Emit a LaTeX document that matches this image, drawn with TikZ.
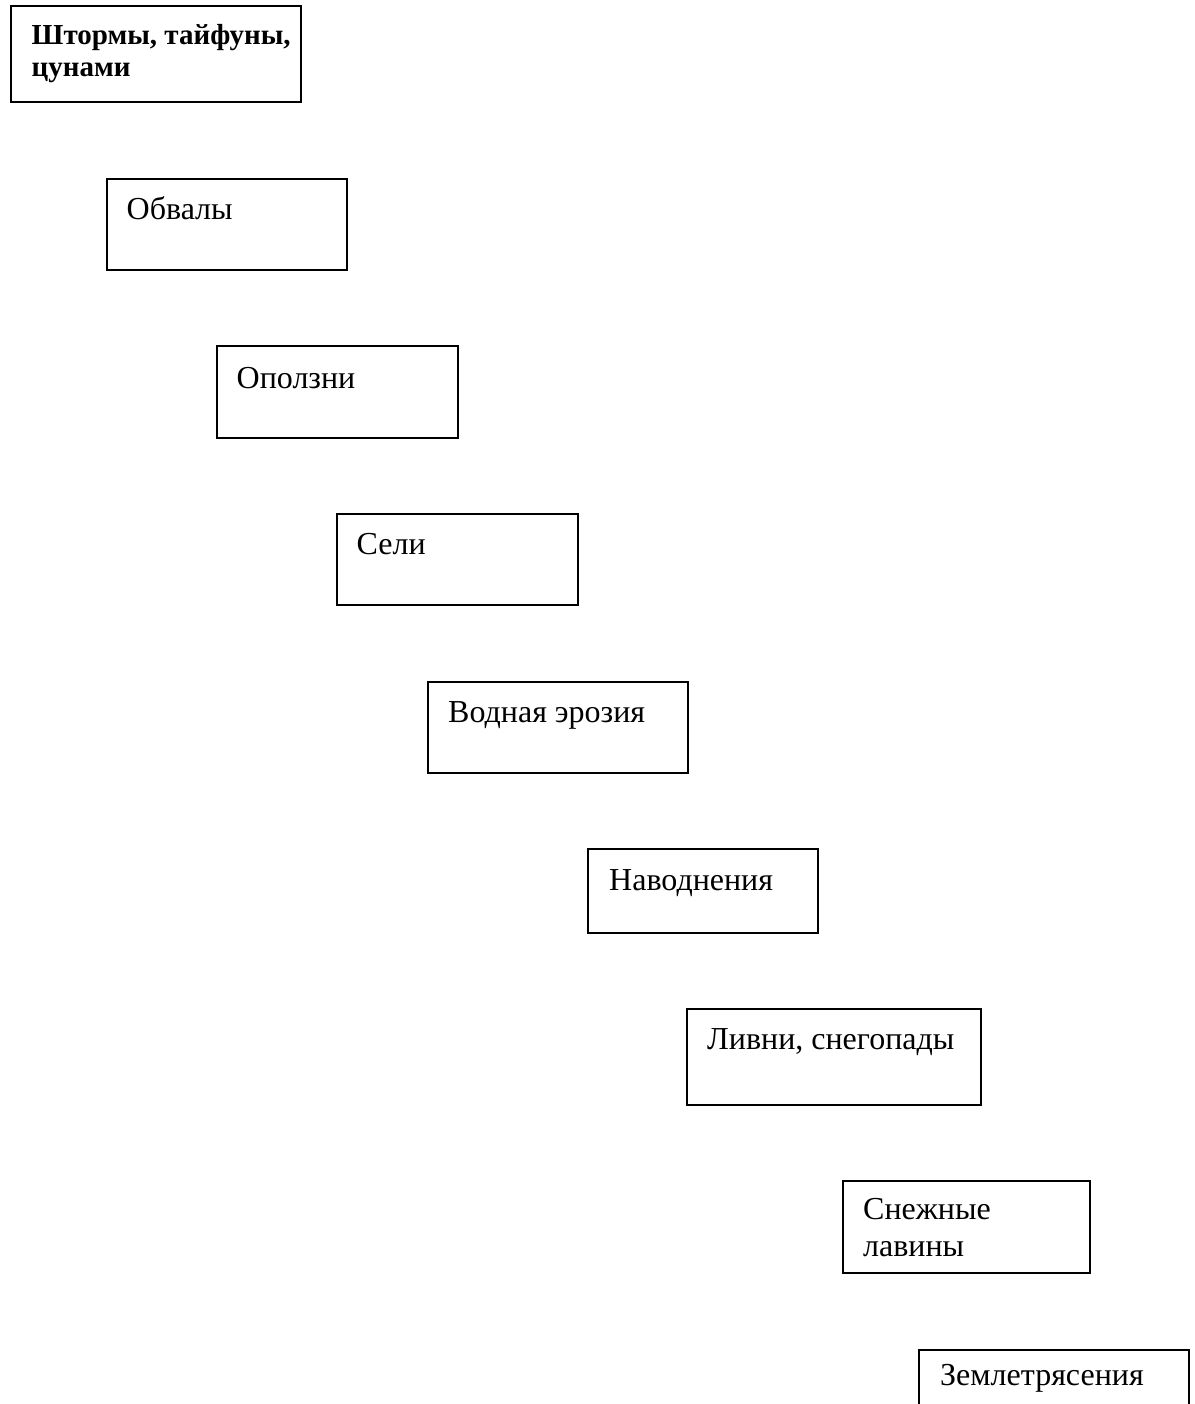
\documentclass[tikz,border=0pt]{standalone}
\usepackage{fontspec}
\setmainfont{Liberation Serif}
\usetikzlibrary{calc}
\tikzset{
  boxa/.style={draw=black, line width=2pt, fill=white, inner sep=0pt, anchor=north west},
  lbl/.style={inner sep=0pt, anchor=base west, font=\fontsize{32}{37}\selectfont, align=left},
  lblb/.style={inner sep=0pt, anchor=base west, font=\fontsize{29}{32}\selectfont\bfseries, align=left}
}
\newcommand{\mkbox}[5]{% name, x1, y1, x2, y2
  \node[boxa, minimum width={(#4-#2)*1pt}, minimum height={(#5-#3)*1pt}] (#1) at (#2,-#3) {};
}
\begin{document}
\begin{tikzpicture}[x=1pt,y=1pt]
\clip (0,0) rectangle (1194,-1404);
\fill[white] (0,0) rectangle (1194,-1404);
\mkbox{b1}{9.5}{5.5}{299.5}{101.5}
\mkbox{b2}{106}{178}{346}{269.5}
\mkbox{b3}{216}{345}{456.5}{437}
\mkbox{b4}{336}{512.5}{576.5}{604}
\mkbox{b5}{426.5}{680.5}{686.5}{771.5}
\mkbox{b6}{587}{847.5}{816.5}{931.5}
\mkbox{b7}{686}{1007.5}{980}{1104}
\mkbox{b8}{842}{1180}{1089}{1272}
\mkbox{b9}{918}{1348.5}{1188}{1440}
\node[lblb] (t1) at ($(b1.north west)+(22,-71.5)$) {Штормы, тайфуны,\\цунами};
\node[lbl] (t2) at ($(b2.north west)+(20.5,-42)$) {Обвалы};
\node[lbl] (t3) at ($(b3.north west)+(20.5,-43)$) {Оползни};
\node[lbl] (t4) at ($(b4.north west)+(20.5,-41.5)$) {Сели};
\node[lbl] (t5) at ($(b5.north west)+(21.5,-42)$) {Водная эрозия};
\node[lbl] (t6) at ($(b6.north west)+(22,-42.5)$) {Наводнения};
\node[lbl] (t7) at ($(b7.north west)+(21,-41.5)$) {Ливни, снегопады};
\node[lbl] (t8) at ($(b8.north west)+(21,-76.5)$) {Снежные\\лавины};
\node[lbl] (t9) at ($(b9.north west)+(22,-36.5)$) {Землетрясения};
\end{tikzpicture}
\end{document}
